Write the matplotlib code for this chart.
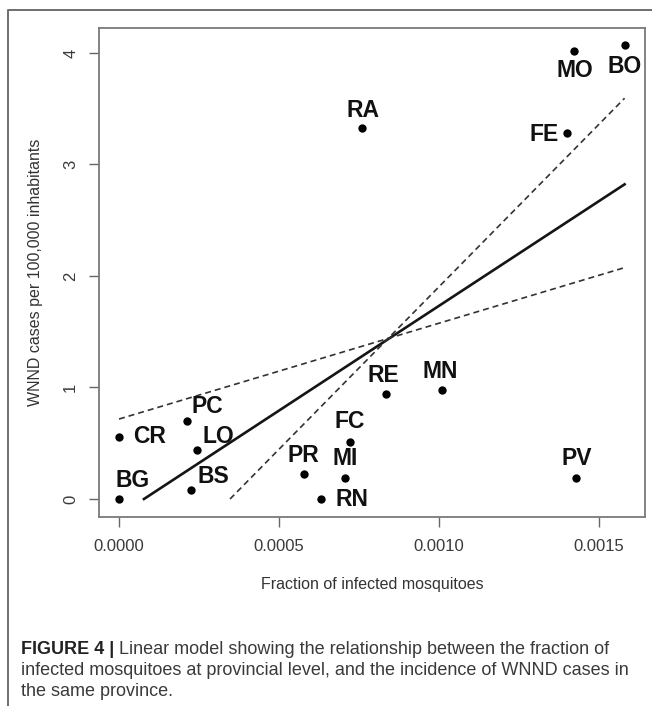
import numpy as np
import matplotlib
matplotlib.use("Agg")
import matplotlib.pyplot as plt
from matplotlib.lines import Line2D

# ── Data ──────────────────────────────────────────────────────────────────────
provinces = ["BG", "CR", "PC", "LO", "BS", "PR", "RN", "MI",
             "FC", "RE", "MN", "PV", "RA", "FE", "MO", "BO"]
frac_infected = [0.0, 0.0, 0.000213, 0.000244, 0.000225, 0.000577, 0.000631, 0.000706,
                 0.000721, 0.000833, 0.001008, 0.001429, 0.000760, 0.001400, 0.001423, 0.001580]
wnnd_rate = [0.0, 0.56, 0.70, 0.437, 0.083, 0.227, 0.0, 0.186,
             0.508, 0.944, 0.975, 0.186, 3.325, 3.285, 4.02, 4.07]

# fitted line and confidence bounds (end points)
fit_x = [0.000078, 0.00158]
fit_y = [0.0, 2.822]
upper_x = [0.000347, 0.00158]
upper_y = [0.0, 3.594]
lower_x = [0.0, 0.00158]
lower_y = [0.717, 2.075]

x_ticks = [0.0, 0.0005, 0.0010, 0.0015]
y_ticks = [0, 1, 2, 3, 4]

# label placement (pixel offsets from each point)
label_offset = {
    "BG": (14, 19), "CR": (31, 0), "PC": (20, 14), "LO": (21, 14),
    "BS": (22, 13), "PR": (0, 18), "RN": (31, 0), "MI": (0, 20),
    "FC": (0, 21), "RE": (-2, 18), "MN": (-1, 19), "PV": (0, 20),
    "RA": (1, 18), "FE": (-23, -2), "MO": (1, -20), "BO": (0, -21),
}

CAPTION_BOLD = "FIGURE 4 | "
CAPTION_1 = "Linear model showing the relationship between the fraction of"
CAPTION_2 = "infected mosquitoes at provincial level, and the incidence of WNND cases in"
CAPTION_3 = "the same province."

# ── Plot ─────────────────────────────────────────────────────────────────────
plt.rcParams["font.family"] = ["Liberation Sans", "DejaVu Sans"]

W, H = 652, 706
fig = plt.figure(figsize=(W / 100, H / 100), dpi=100)
ax = fig.add_axes([99 / W, 1 - 517 / H, (645 - 99) / W, (517 - 28) / H])

ax.scatter(frac_infected, wnnd_rate, s=36, color="black", zorder=3, linewidths=0)
for code, xv, yv in zip(provinces, frac_infected, wnnd_rate):
    dx, dy = label_offset[code]
    ax.annotate(code, (xv, yv), xytext=(dx, dy), textcoords="offset pixels",
                ha="center", va="center", fontsize=16.5, fontweight="bold",
                color="#111111")

ax.plot(fit_x, fit_y, color="#151515", linewidth=1.9)
ax.plot(upper_x, upper_y, color="#333333", linewidth=1.2, dashes=(3.6, 2.4))
ax.plot(lower_x, lower_y, color="#333333", linewidth=1.2, dashes=(3.6, 2.4))

ax.set_xlim(-0.0000625, 0.0016438)
ax.set_ylim(-0.1614, 4.224)
ax.set_xticks(x_ticks)
ax.set_xticklabels([f"{v:.4f}" for v in x_ticks])
ax.set_yticks(y_ticks)
ax.set_yticklabels([str(v) for v in y_ticks], rotation=90, va="center")
ax.tick_params(direction="out", length=7, width=1.0, color="#666666",
               labelsize=12, labelcolor="#3a3a3a")
ax.tick_params(axis="x", pad=9)
ax.tick_params(axis="y", pad=8)
for sp in ax.spines.values():
    sp.set_color("#7a7a7a")
    sp.set_linewidth(1.3)

ax.set_xlabel("Fraction of infected mosquitoes", fontsize=11.5, color="#333333", va="center")
ax.set_ylabel("WNND cases per 100,000 inhabitants", fontsize=11.5, color="#333333", va="center")
ax.xaxis.set_label_coords(0.5, (517 - 584) / (517 - 28))
ax.yaxis.set_label_coords((35 - 99) / (645 - 99), 0.5)

# outer frame (left and top edges)
fig.add_artist(Line2D([7.5 / W, 7.5 / W, 1.0], [0.0, 1 - 10 / H, 1 - 10 / H],
                      transform=fig.transFigure, color="#6e6e6e", linewidth=1.4))

# caption
cap_x = 21 / W
cap_size = 13
renderer = fig.canvas.get_renderer()
t_bold = fig.text(cap_x, 1 - 654 / H, CAPTION_BOLD, fontsize=cap_size, fontweight="bold",
                  color="#222222", va="baseline")
bb = t_bold.get_window_extent(renderer=renderer)
fig.text(bb.x1 / W, 1 - 654 / H, CAPTION_1, fontsize=cap_size, color="#3a3a3a", va="baseline")
fig.text(cap_x, 1 - 675 / H, CAPTION_2, fontsize=cap_size, color="#3a3a3a", va="baseline")
fig.text(cap_x, 1 - 696 / H, CAPTION_3, fontsize=cap_size, color="#3a3a3a", va="baseline")

fig.savefig("out.png", dpi=100)
plt.close(fig)
